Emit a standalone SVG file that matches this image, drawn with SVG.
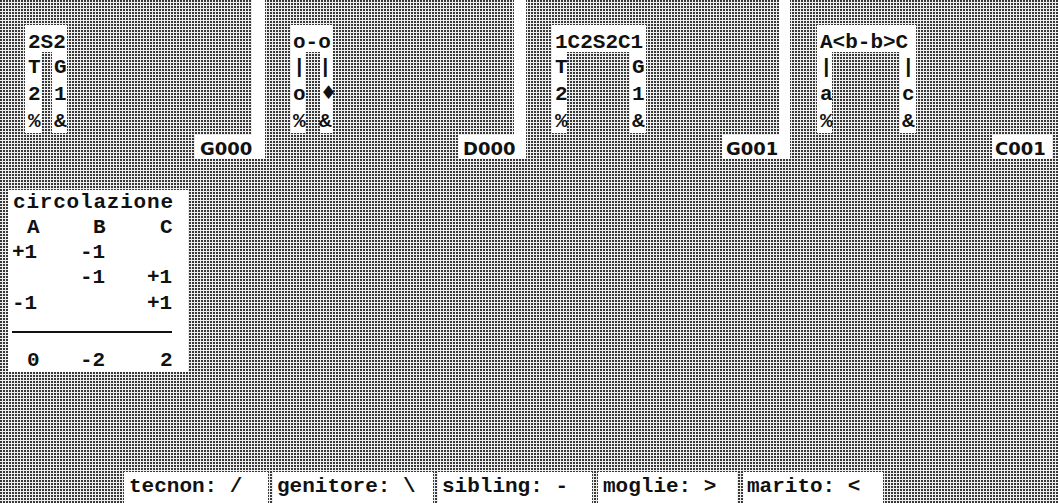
<svg xmlns="http://www.w3.org/2000/svg" width="1058" height="503" viewBox="0 0 1058 503">
<defs>
<pattern id="dots" width="3" height="3" patternUnits="userSpaceOnUse">
<rect width="3" height="3" fill="#eeeeee"/>
<rect width="2" height="2" fill="#383838"/>
</pattern>
</defs>
<style>
.w{fill:#ffffff}
.d{fill:url(#dots)}
.m{font-family:"Liberation Mono","Courier New",monospace;font-weight:bold;font-size:21px;fill:#111}
.s{font-family:"DejaVu Sans",Verdana,sans-serif;font-weight:bold;font-size:18px;fill:#111}
.t{font-family:"Liberation Mono","Courier New",monospace;font-weight:bold;font-size:21px;fill:#111}
.sym{font-family:"DejaVu Sans",sans-serif;font-size:19px;fill:#111}
</style>
<rect x="0" y="0" width="1058" height="503" class="d"/>

<g id="block-2S2">
<rect x="25" y="25" width="42" height="108" class="w"/>
<rect x="42" y="52" width="10" height="81" class="d"/>
<text x="28" y="48" class="m">2S2</text>
<text x="28" y="73" class="m">T</text><text x="54" y="73" class="m">G</text>
<text x="28" y="100" class="m">2</text><text x="54" y="100" class="m">1</text>
<text x="28" y="127" class="m">%</text><text x="54" y="127" class="m">&amp;</text>
</g>

<g id="label-G000">
<rect x="252" y="0" width="13" height="159" class="w"/>
<rect x="195" y="135" width="70" height="24" class="w"/>
<text x="200" y="155" class="s">G000</text>
</g>

<g id="block-o-o">
<rect x="291" y="25" width="42" height="108" class="w"/>
<rect x="305" y="52" width="15" height="81" class="d"/>
<text x="293" y="48" class="m">o-o</text>
<text x="293" y="73" class="m">|</text><text x="319" y="73" class="m">|</text>
<text x="293" y="100" class="m">o</text><text x="320" y="99" class="sym">♦</text>
<text x="293" y="127" class="m">%</text><text x="319" y="127" class="m">&amp;</text>
</g>

<g id="label-D000">
<rect x="514" y="0" width="12" height="159" class="w"/>
<rect x="458" y="135" width="68" height="24" class="w"/>
<text x="463" y="155" class="s">D000</text>
</g>

<g id="block-1C2S2C1">
<rect x="552" y="25" width="94" height="108" class="w"/>
<rect x="567" y="52" width="63" height="81" class="d"/>
<text x="555" y="48" class="m">1C2S2C1</text>
<text x="555" y="73" class="m">T</text><text x="632" y="73" class="m">G</text>
<text x="555" y="100" class="m">2</text><text x="632" y="100" class="m">1</text>
<text x="555" y="127" class="m">%</text><text x="632" y="127" class="m">&amp;</text>
</g>

<g id="label-G001">
<rect x="779" y="0" width="11" height="159" class="w"/>
<rect x="722" y="135" width="68" height="24" class="w"/>
<text x="726" y="155" class="s">G001</text>
</g>

<g id="block-AbbC">
<rect x="817" y="25" width="99" height="108" class="w"/>
<rect x="832" y="52" width="68" height="81" class="d"/>
<text x="820" y="48" class="m">A&lt;b-b&gt;C</text>
<text x="820" y="73" class="m">|</text><text x="902" y="73" class="m">|</text>
<text x="820" y="100" class="m">a</text><text x="902" y="100" class="m">c</text>
<text x="820" y="127" class="m">%</text><text x="902" y="127" class="m">&amp;</text>
</g>

<g id="label-C001">
<rect x="992" y="135" width="60" height="24" class="w"/>
<text x="995" y="155" class="s">C001</text>
</g>

<g id="circolazione">
<rect x="8" y="190" width="180" height="182" class="w"/>
<text x="13" y="208" class="t" textLength="160">circolazione</text>
<text x="27" y="233" class="t">A</text><text x="93" y="233" class="t">B</text><text x="160" y="233" class="t">C</text>
<text x="12" y="258" class="t">+1</text><text x="80" y="258" class="t">-1</text>
<text x="80" y="283" class="t">-1</text><text x="147" y="283" class="t">+1</text>
<text x="12" y="309" class="t">-1</text><text x="147" y="309" class="t">+1</text>
<line x1="12" y1="332" x2="172" y2="332" stroke="#111" stroke-width="2"/>
<text x="27" y="366" class="t">0</text><text x="80" y="366" class="t">-2</text><text x="160" y="366" class="t">2</text>
</g>

<g id="legend">
<rect x="124" y="472" width="144" height="31" class="w"/>
<text x="129" y="492" class="t">tecnon: /</text>
<rect x="273" y="472" width="160" height="31" class="w"/>
<text x="277" y="492" class="t">genitore: \</text>
<rect x="438" y="472" width="154" height="31" class="w"/>
<text x="442" y="492" class="t">sibling: -</text>
<rect x="598" y="472" width="139" height="31" class="w"/>
<text x="603" y="492" class="t">moglie: &gt;</text>
<rect x="743" y="472" width="140" height="31" class="w"/>
<text x="747" y="492" class="t">marito: &lt;</text>
</g>
</svg>
